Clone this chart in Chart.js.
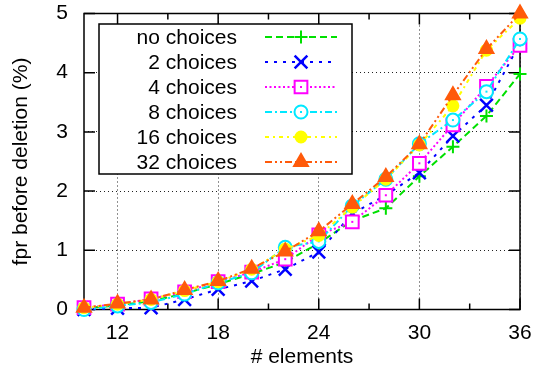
<!DOCTYPE html>
<html>
<head>
<meta charset="utf-8">
<script src="https://cdn.jsdelivr.net/npm/chart.js@4/dist/chart.umd.min.js"></script>
<style>
  html, body { margin: 0; padding: 0; background: #fff; }
</style>
</head>
<body>
<canvas id="chart" width="542" height="377"></canvas>
<script>
// number of elements inserted (x axis)
const elements = [10, 12, 14, 16, 18, 20, 22, 24, 26, 28, 30, 32, 34, 36];
const xTicks = [12, 18, 24, 30, 36];
const xMinorTicks = [15, 21, 27, 33];
const yTicks = [0, 1, 2, 3, 4, 5];

const seriesNames = ["no choices", "2 choices", "4 choices", "8 choices", "16 choices", "32 choices"];

// false positive rate before deletion, in percent
const noChoices  = [0.02, 0.07, 0.14, 0.27, 0.43, 0.60, 0.80, 1.12, 1.50, 1.71, 2.25, 2.75, 3.27, 3.98];
const choices2   = [0.00, 0.02, 0.03, 0.17, 0.34, 0.48, 0.68, 0.97, 1.62, 1.93, 2.31, 2.93, 3.45, 4.50];
const choices4   = [0.03, 0.09, 0.18, 0.30, 0.47, 0.63, 0.85, 1.26, 1.48, 1.93, 2.47, 3.12, 3.77, 4.46];
const choices8   = [0.00, 0.06, 0.12, 0.26, 0.45, 0.62, 1.05, 1.15, 1.75, 2.20, 2.80, 3.20, 3.68, 4.57];
const choices16  = [0.03, 0.09, 0.17, 0.32, 0.47, 0.68, 1.02, 1.25, 1.73, 2.20, 2.78, 3.44, 4.38, 4.92];
const choices32  = [0.03, 0.10, 0.17, 0.33, 0.48, 0.69, 0.98, 1.32, 1.78, 2.24, 2.79, 3.62, 4.40, 5.00];
const allSeries = [noChoices, choices2, choices4, choices8, choices16, choices32];

// line / marker styles, gnuplot-like
const colors = ["#00e000", "#0000ff", "#ff00ff", "#00e8ff", "#ffff00", "#ff5a0a"];
const dashes = [[7, 4], [3, 6], [2, 2.5], [7, 3, 2, 3], [4, 4, 2, 4], [7, 3, 2, 3, 2, 3]];
const markers = ["cross", "crossRot", "rect", "circle", "circle", "triangle"];
const markerRadius = [6.5, 9, 9, 6.5, 5.5, 8];
const markerFill = ["#fff", "#fff", "#fff", "#fff", null, null];
const centerDot = [false, false, true, true, false, false];

const FONT = "'Liberation Sans', Arial, sans-serif";
const FONT_SIZE = 21;

const datasets = allSeries.map((vals, i) => ({
    label: seriesNames[i],
    data: elements.map((x, j) => ({ x: x, y: vals[j] })),
    borderColor: colors[i],
    borderWidth: 2,
    borderDash: dashes[i],
    pointStyle: markers[i],
    pointRadius: markerRadius[i],
    pointBorderColor: colors[i],
    pointBackgroundColor: markerFill[i] || colors[i],
    pointBorderWidth: i === 1 ? 2.5 : 2,
    tension: 0,
    fill: false,
    clip: false,
    order: allSeries.length - i
}));

// frame with inward ticks like gnuplot
const framePlugin = {
    id: "frame",
    beforeDatasetsDraw(chart) {
        const { ctx, chartArea: a, scales: { x, y } } = chart;
        ctx.save();
        ctx.strokeStyle = "#000";
        ctx.lineWidth = 1.5;
        ctx.setLineDash([]);
        ctx.strokeRect(a.left, a.top, a.right - a.left, a.bottom - a.top);
        ctx.beginPath();
        xTicks.concat(xMinorTicks).forEach(v => {
            const px = x.getPixelForValue(v);
            const len = xMinorTicks.includes(v) ? 6 : 11;
            ctx.moveTo(px, a.bottom); ctx.lineTo(px, a.bottom - len);
            ctx.moveTo(px, a.top); ctx.lineTo(px, a.top + len);
        });
        yTicks.forEach(v => {
            const py = y.getPixelForValue(v);
            ctx.moveTo(a.left, py); ctx.lineTo(a.left + 11, py);
            ctx.moveTo(a.right, py); ctx.lineTo(a.right - 11, py);
        });
        ctx.stroke();
        ctx.restore();
    }
};

// small dots in the middle of the open square / circle markers
const dotPlugin = {
    id: "centerDots",
    afterDatasetDraw(chart, args) {
        const i = args.index;
        if (!centerDot[i]) return;
        const { ctx } = chart;
        ctx.save();
        ctx.fillStyle = colors[i];
        args.meta.data.forEach(pt => ctx.fillRect(pt.x - 1, pt.y - 1, 2, 2));
        ctx.restore();
    }
};

// key box in the upper left corner: text first, then line sample
const keyPlugin = {
    id: "key",
    beforeDatasetsDraw(chart) {
        const { ctx } = chart;
        const box = { left: 99, top: 24, right: 352, bottom: 174 };
        const textRight = 237, lineFrom = 265, lineTo = 337, row0 = 37, rowGap = 25;
        ctx.save();
        ctx.fillStyle = "#fff";
        ctx.fillRect(box.left, box.top, box.right - box.left, box.bottom - box.top);
        ctx.strokeStyle = "#000";
        ctx.lineWidth = 1.5;
        ctx.strokeRect(box.left, box.top, box.right - box.left, box.bottom - box.top);
        chart.data.datasets.forEach((ds, i) => {
            const yy = row0 + i * rowGap;
            ctx.fillStyle = "#000";
            ctx.font = FONT_SIZE + "px " + FONT;
            ctx.textAlign = "right";
            ctx.textBaseline = "middle";
            ctx.fillText(ds.label, textRight, yy + 1);

            ctx.strokeStyle = ds.borderColor;
            ctx.lineWidth = 2;
            ctx.setLineDash(ds.borderDash);
            ctx.beginPath();
            ctx.moveTo(lineFrom, yy);
            ctx.lineTo(lineTo, yy);
            ctx.stroke();
            ctx.setLineDash([]);

            const mx = (lineFrom + lineTo) / 2;
            ctx.fillStyle = ds.pointBackgroundColor;
            ctx.lineWidth = ds.pointBorderWidth;
            Chart.helpers.drawPoint(ctx, {
                pointStyle: ds.pointStyle,
                radius: ds.pointRadius,
                borderWidth: ds.pointBorderWidth,
                rotation: 0
            }, mx, yy);
            if (centerDot[i]) {
                ctx.fillStyle = ds.borderColor;
                ctx.fillRect(mx - 1, yy - 1, 2, 2);
            }
        });
        ctx.restore();
    }
};

new Chart(document.getElementById("chart"), {
    type: "line",
    data: { datasets: datasets },
    plugins: [framePlugin, keyPlugin, dotPlugin],
    options: {
        responsive: false,
        devicePixelRatio: 1,
        animation: false,
        layout: { padding: { left: 0, top: 13.5, right: 22, bottom: 0 } },
        plugins: { legend: { display: false }, tooltip: { enabled: false } },
        scales: {
            x: {
                type: "linear",
                min: 10,
                max: 36,
                afterBuildTicks: s => { s.ticks = xTicks.map(v => ({ value: v })); },
                afterFit: s => { s.height = 67.5; s.paddingLeft = 0; s.paddingRight = 0; },
                grid: { color: "#222", lineWidth: 1, drawTicks: false },
                border: { display: false, dash: [1, 3] },
                ticks: { color: "#000", font: { family: FONT, size: FONT_SIZE }, padding: 11, maxRotation: 0 },
                title: { display: true, text: "# elements", color: "#000", font: { family: FONT, size: FONT_SIZE }, padding: { top: 0, bottom: 7 } }
            },
            y: {
                min: 0,
                max: 5,
                afterBuildTicks: s => { s.ticks = yTicks.map(v => ({ value: v })); },
                afterFit: s => { s.width = 84; s.paddingTop = 0; s.paddingBottom = 0; },
                grid: { color: "#222", lineWidth: 1, drawTicks: false },
                border: { display: false, dash: [1, 3] },
                ticks: { color: "#000", font: { family: FONT, size: FONT_SIZE }, padding: 16 },
                title: { display: true, text: "fpr before deletion (%)", color: "#000", font: { family: FONT, size: FONT_SIZE }, padding: { top: 9, bottom: 0 } }
            }
        }
    }
});
</script>
</body>
</html>
